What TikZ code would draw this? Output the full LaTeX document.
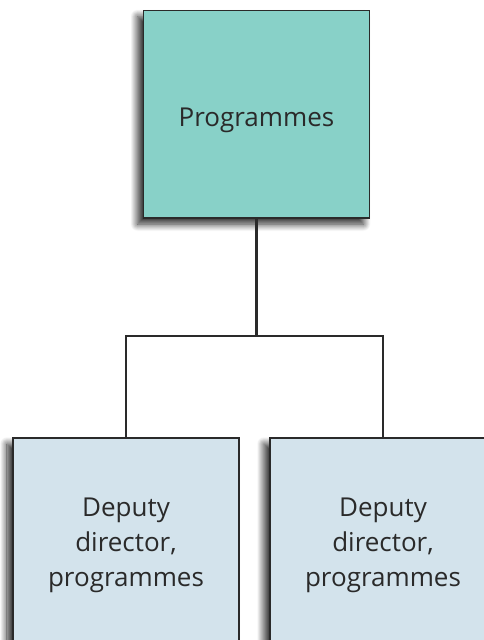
\documentclass[tikz,border=0pt]{standalone}
\usepackage{fontspec}
\setmainfont{Open Sans}
\usetikzlibrary{shadows.blur}
\definecolor{teal}{HTML}{88D1C8}
\definecolor{pale}{HTML}{D3E3EC}
\definecolor{edge}{HTML}{2A2A2A}
\tikzset{
  box/.style={draw=edge, line width=1.4pt, minimum width=226pt, inner sep=0pt,
    blur shadow={shadow xshift=-6pt, shadow yshift=-6pt, shadow blur radius=7pt, shadow blur steps=14, shadow opacity=85}},
  label/.style={font=\fontsize{26}{35.3}\selectfont, text=edge, align=center, inner sep=0pt},
  link/.style={draw=edge, line width=2.2pt}
}
\begin{document}
\begin{tikzpicture}[x=1pt,y=-1pt]
\useasboundingbox (0,0) rectangle (484,640);
\node[box, fill=teal, minimum height=207.5pt] (top) at (256.5,114.3) {};
\node[label, anchor=base] (tt) at (256.5,126) {Programmes};
\node[box, fill=pale, minimum height=240pt] (lb) at (126,558) {};
\node[box, fill=pale, minimum height=240pt] (rb) at (383,558) {};
\node[label] (lt) at (126,545.5) {Deputy\\director,\\programmes};
\node[label] (rt) at (383,545.5) {Deputy\\director,\\programmes};
\coordinate (j) at (256.5,337);
\draw[link] (top.south) -- (j);
\draw[link] (lb.north) -- ++(0,-101) -| (rb.north);
\end{tikzpicture}
\end{document}
